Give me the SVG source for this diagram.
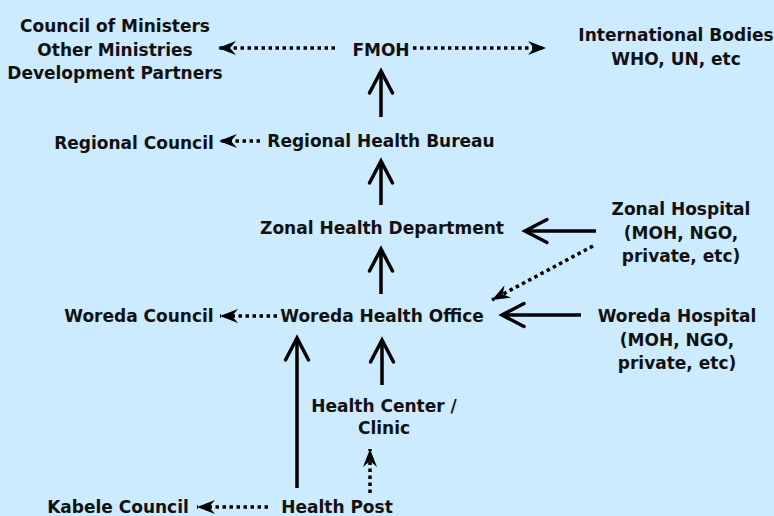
<svg xmlns="http://www.w3.org/2000/svg" width="774" height="516" viewBox="0 0 774 516">
<style>
text{font-family:"DejaVu Sans","Liberation Sans",sans-serif;font-weight:bold;font-size:17px;fill:#111;text-anchor:middle}
.solid{stroke:#000;stroke-width:3.5;fill:none;marker-end:url(#v)}
.dot{stroke:#000;stroke-width:3.5;fill:none;stroke-dasharray:3.5 3.5;marker-end:url(#st)}
</style>
<defs>
<marker id="v" markerUnits="userSpaceOnUse" markerWidth="30" markerHeight="30" viewBox="-26 -15 30 30" refX="0" refY="0" orient="auto" overflow="visible">
<path d="M-22,-11.5 L0,0 L-22,11.5" fill="none" stroke="#000" stroke-width="3.5" stroke-linecap="round" stroke-linejoin="miter"/>
</marker>
<marker id="st" markerUnits="userSpaceOnUse" markerWidth="24" markerHeight="20" viewBox="-20 -10 24 20" refX="0" refY="0" orient="auto" overflow="visible">
<path d="M0,0 L-18,-7 L-12,0 L-18,7 Z" fill="#000"/>
</marker>
</defs>
<rect width="774" height="516" fill="#CCEBFE"/>
<g id="connectors">
<path class="dot" d="M335,48 L218,48"/>
<path class="dot" d="M413,48 L546,48"/>
<path class="dot" d="M260,141 L219,141"/>
<path class="dot" d="M277,316 L220,316"/>
<path class="dot" d="M268,507 L197,507"/>
<path class="dot" d="M370,493 L370,449"/>
<path class="dot" d="M593,246 L492,300"/>
<path class="solid" d="M381,117 L381,71"/>
<path class="solid" d="M381,205 L381,161"/>
<path class="solid" d="M381,294 L381,249"/>
<path class="solid" d="M297,488 L297,338"/>
<path class="solid" d="M382,385 L382,340"/>
<path class="solid" d="M596,231 L525,231"/>
<path class="solid" d="M581,315 L502,315"/>
</g>
<g id="fmoh"><text x="381" y="56">FMOH</text></g>
<g id="council-ministers"><text x="115" y="32">Council of Ministers</text><text x="115" y="56">Other Ministries</text><text x="115" y="79">Development Partners</text></g>
<g id="international"><text x="676" y="41">International Bodies</text><text x="676" y="65">WHO, UN, etc</text></g>
<g id="rhb"><text x="381" y="147">Regional Health Bureau</text></g>
<g id="regional-council"><text x="134" y="149">Regional Council</text></g>
<g id="zhd"><text x="382" y="234">Zonal Health Department</text></g>
<g id="zonal-hospital"><text x="681" y="215">Zonal Hospital</text><text x="681" y="239">(MOH, NGO,</text><text x="681" y="262">private, etc)</text></g>
<g id="who"><text x="382" y="322">Woreda Health Office</text></g>
<g id="woreda-council"><text x="139" y="322">Woreda Council</text></g>
<g id="woreda-hospital"><text x="677" y="322">Woreda Hospital</text><text x="677" y="346">(MOH, NGO,</text><text x="677" y="369">private, etc)</text></g>
<g id="health-center"><text x="384" y="412">Health Center /</text><text x="384" y="434">Clinic</text></g>
<g id="health-post"><text x="337" y="513">Health Post</text></g>
<g id="kabele-council"><text x="118" y="513">Kabele Council</text></g>
</svg>
